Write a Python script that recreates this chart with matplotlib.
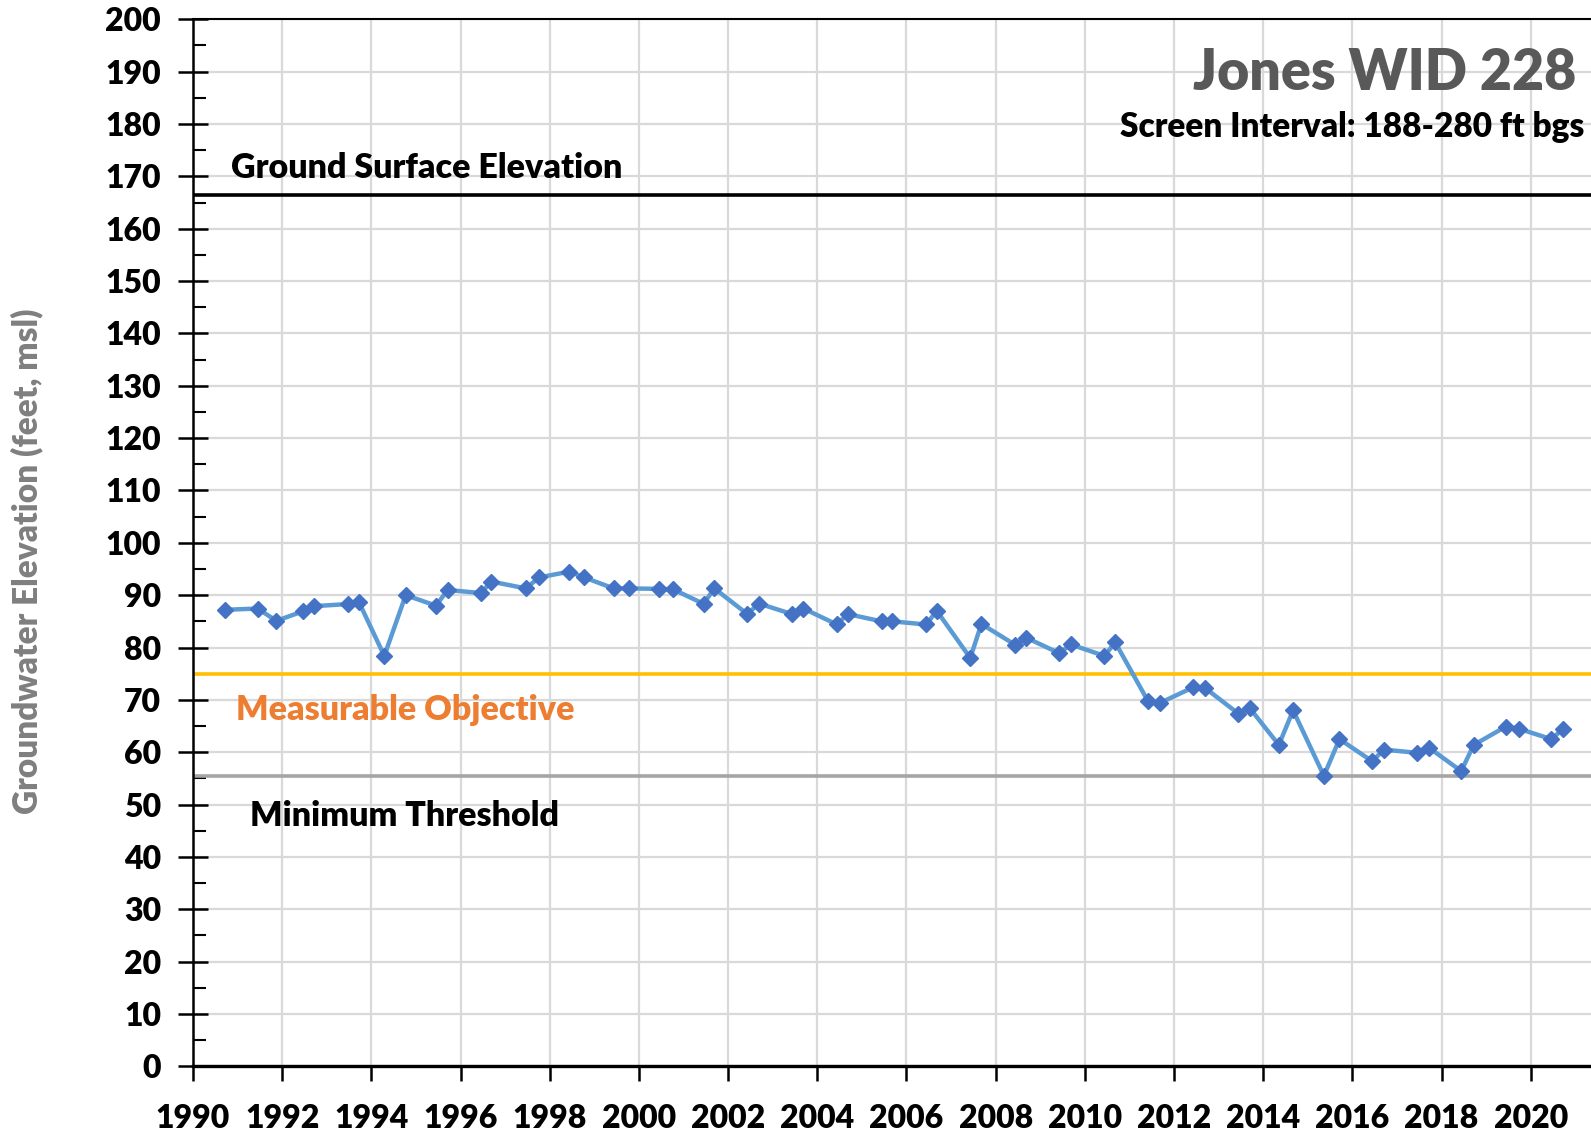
import matplotlib.pyplot as plt
import numpy as np
from matplotlib.ticker import MultipleLocator

plt.rcParams['font.family'] = ['Lato', 'DejaVu Sans']
plt.rcParams['font.weight'] = 'heavy'

# measurement dates (decimal years) and groundwater elevations (ft msl)
years = [1990.71, 1991.45, 1991.87, 1992.46, 1992.71, 1993.47, 1993.72, 1994.29,
         1994.77, 1995.45, 1995.71, 1996.46, 1996.69, 1997.46, 1997.77, 1998.44,
         1998.77, 1999.43, 1999.77, 2000.45, 2000.77, 2001.45, 2001.69, 2002.43,
         2002.69, 2003.43, 2003.69, 2004.44, 2004.68, 2005.44, 2005.68, 2006.44,
         2006.68, 2007.43, 2007.68, 2008.44, 2008.68, 2009.43, 2009.68, 2010.44,
         2010.68, 2011.42, 2011.68, 2012.43, 2012.69, 2013.44, 2013.70, 2014.35,
         2014.67, 2015.36, 2015.71, 2016.44, 2016.71, 2017.44, 2017.71, 2018.44,
         2018.72, 2019.44, 2019.73, 2020.46, 2020.73]
elev = [87.2, 87.45, 85.1, 86.9, 87.9, 88.3, 88.7, 78.4,
        90.0, 88.0, 91.0, 90.4, 92.6, 91.3, 93.4, 94.5,
        93.4, 91.3, 91.3, 91.2, 91.1, 88.35, 91.3, 86.4,
        88.4, 86.4, 87.45, 84.4, 86.4, 85.0, 85.0, 84.4,
        87.0, 78.0, 84.5, 80.5, 81.9, 78.9, 80.6, 78.4,
        81.0, 69.7, 69.4, 72.4, 72.3, 67.4, 68.4, 61.4,
        68.0, 55.5, 62.5, 58.3, 60.5, 59.9, 60.9, 56.4,
        61.4, 64.9, 64.5, 62.5, 64.5]

ground_surface = 166.5
measurable_objective = 75.0
minimum_threshold = 55.4

x_ticks = np.arange(1990, 2021, 2)
y_ticks = np.arange(0, 201, 10)

fig = plt.figure(figsize=(15.91, 11.33), dpi=100)
ax = fig.add_axes([0.1213, 0.0588, 0.8787, 0.9242])

ax.set_xlim(1990, 2021.35)
ax.set_ylim(0, 200)
ax.set_xticks(x_ticks)
ax.set_yticks(y_ticks)
ax.yaxis.set_minor_locator(MultipleLocator(5))
ax.grid(True, which='major', color='#d9d9d9', linewidth=1.6, zorder=0)
ax.set_axisbelow(True)

ax.axhline(ground_surface, color='black', linewidth=2.6, zorder=2)
ax.axhline(measurable_objective, color='#ffc000', linewidth=2.6, zorder=2)
ax.axhline(minimum_threshold, color='#a5a5a5', linewidth=2.6, zorder=2)

ax.plot(years, elev, color='#5b9bd5', linewidth=3.2, marker='D',
        markersize=8.5, markerfacecolor='#4472c4', markeredgecolor='#4472c4',
        zorder=3)

ax.spines['right'].set_visible(False)
ax.spines['top'].set_linewidth(1.5)
ax.spines['left'].set_linewidth(1.8)
ax.spines['bottom'].set_linewidth(2.4)

ax.tick_params(axis='y', which='major', direction='inout', length=22, width=1.8,
               labelsize=23, pad=12)
ax.tick_params(axis='y', which='minor', direction='in', length=9, width=1.5)
ax.tick_params(axis='x', which='major', direction='out', length=11, width=1.8,
               labelsize=23, pad=16)
for lab in ax.get_xticklabels() + ax.get_yticklabels():
    lab.set_fontweight('heavy')

fig.text(0.017, 0.505, 'Groundwater Elevation (feet, msl)', rotation=90,
         ha='center', va='center', fontsize=24, color='#7f7f7f', fontweight='heavy')

ax.text(2021.03, 186.5, 'Jones WID 228', ha='right', va='baseline',
        fontsize=40, color='#595959', fontweight='heavy')
ax.text(2021.2, 177.6, 'Screen Interval: 188-280 ft bgs', ha='right',
        va='baseline', fontsize=24, color='black', fontweight='heavy')
ax.text(1990.85, 169.7, 'Ground Surface Elevation', ha='left', va='baseline',
        fontsize=24.5, color='black', fontweight='heavy')
ax.text(1990.96, 68.1, 'Measurable Objective', ha='left', va='center',
        fontsize=24.5, color='#ed7d31', fontweight='heavy')
ax.text(1991.28, 47.9, 'Minimum Threshold', ha='left', va='center',
        fontsize=24.5, color='black', fontweight='heavy')

fig.savefig('out.png', dpi=100, facecolor='white')
